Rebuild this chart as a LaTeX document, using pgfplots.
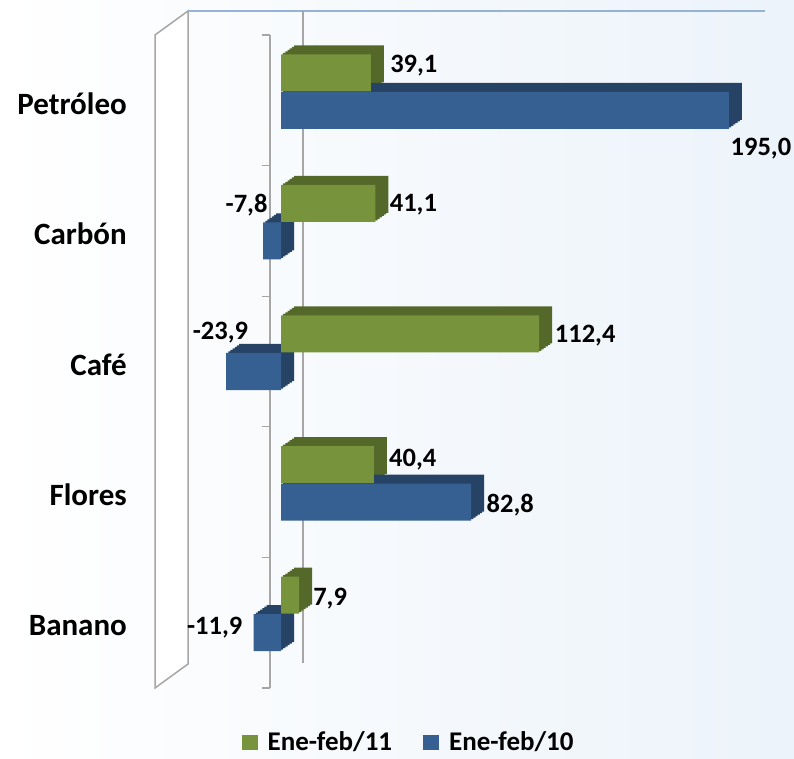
\documentclass[border=0pt]{standalone}
\usepackage{pgfplots}
\pgfplotsset{compat=1.18}
\usepackage{pgfplotstable}
\usepackage{fontspec}
\setmainfont{Carlito}

\definecolor{gfront}{RGB}{119,147,60}
\definecolor{gdark}{RGB}{84,104,42}
\definecolor{bfront}{RGB}{55,96,146}
\definecolor{bdark}{RGB}{38,66,100}
\definecolor{axgray}{RGB}{166,166,166}
\definecolor{wallblue}{RGB}{149,179,215}
\definecolor{bgblue}{RGB}{236,243,250}

% y = category (0 = Banano ... 4 = Petroleo), dx/dy = label offset from bar end
\pgfplotstableread{
y v lab dx dy
4 39.1 39,1 43 7
3 41.1 41,1 38 -1
2 112.4 112,4 46 -1.5
1 40.4 40,4 39 5
0 7.9 7,9 31 -3
}\eneonce

\pgfplotstableread{
y v lab dx dy
4 195.0 195,0 32 -38
3 -7.8 -7,8 -16.5 36
2 -23.9 -23,9 -5.6 39
1 82.8 82,8 39 -3
0 -11.9 -11,9 -39 5.5
}\enediez

\pgfplotsset{
  vlabels/.style={
    nodes near coords,
    visualization depends on={\thisrow{dx}\as\dx},
    visualization depends on={\thisrow{dy}\as\dy},
    nodes near coords style={font=\fontsize{26.5}{29}\selectfont\bfseries,
      anchor=center, inner sep=0pt, xshift=\dx pt, yshift=\dy pt}},
}

\begin{document}
\begin{tikzpicture}
\shade[left color=white, right color=bgblue] (0,0) rectangle (794pt,758pt);
% left wall and back wall
\draw[axgray, line width=1.5pt, fill=white] (155pt,70pt) -- (155pt,723pt) -- (188pt,747pt) -- (188pt,94pt) -- cycle;
\draw[wallblue, line width=2pt] (188pt,747pt) -- (765pt,747pt);
\draw[axgray, line width=1.3pt] (303pt,747pt) -- (303pt,95pt);

\begin{axis}[
  at={(270pt,70pt)}, anchor=south west,
  scale only axis, width=495pt, height=653pt,
  xmin=-4.789, xmax=210.7, ymin=-0.5, ymax=4.5,
  axis x line=none, axis y line*=left,
  y axis line style={draw=axgray, line width=1.3pt},
  ytick={-0.5,0.5,1.5,2.5,3.5,4.5}, y tick label as interval,
  yticklabels={Banano,Flores,Café,Carbón,Petróleo},
  tick align=outside, major tick length=8pt,
  ytick style={draw=axgray, line width=1.3pt},
  yticklabel style={font=\fontsize{31}{34}\selectfont\bfseries, anchor=east, inner sep=0pt, xshift=-135pt, yshift=-3pt},
  clip=false,
  xbar, bar width=37pt,
  legend columns=2,
  legend style={at={(0.28,-0.083)}, anchor=center, draw=none, fill=none,
    font=\fontsize{27}{30}\selectfont\bfseries, inner sep=0pt,
    /tikz/every odd column/.append style={column sep=8pt},
    /tikz/every even column/.append style={column sep=29pt}},
  legend image code/.code={\fill[#1] (0pt,-7.5pt) rectangle (16pt,7.5pt);},
]
% depth faces of the 3D bars
\pgfplotsinvokeforeach{1,2,3,4,5,6}{
  \addplot[forget plot, fill=gdark, draw=none, bar shift=27.5pt, xshift={#1*13pt/6}, yshift={#1*9pt/6}] table[x=v, y=y] {\eneonce};
  \addplot[forget plot, fill=bdark, draw=none, bar shift=-10pt, xshift={#1*13pt/6}, yshift={#1*9pt/6}] table[x=v, y=y] {\enediez};
}
% front faces
\addplot[fill=gfront, draw=none, bar shift=27.5pt, vlabels, point meta=explicit symbolic]
  table[x=v, y=y, meta=lab] {\eneonce};
\addplot[fill=bfront, draw=none, bar shift=-10pt, vlabels, point meta=explicit symbolic]
  table[x=v, y=y, meta=lab] {\enediez};
\legend{Ene-feb/11, Ene-feb/10}
\end{axis}
\pgfresetboundingbox
\useasboundingbox (0,0) rectangle (794pt,758pt);
\end{tikzpicture}
\end{document}
